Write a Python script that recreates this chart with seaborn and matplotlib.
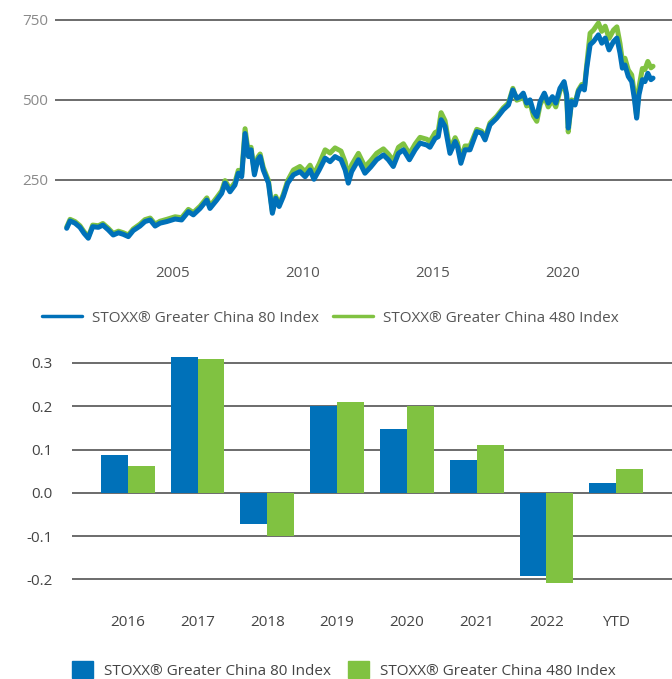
import matplotlib
matplotlib.use('Agg')
import matplotlib.pyplot as plt
from matplotlib.lines import Line2D
from matplotlib.patches import Patch
import seaborn as sns
import pandas as pd

# --- index levels (decimal year, GC80, GC480) ---
years = [2000.91, 2001.04, 2001.23, 2001.42, 2001.58, 2001.74, 2001.91,
         2002.13, 2002.3, 2002.51, 2002.7, 2002.9,
         2003.09, 2003.28, 2003.47, 2003.73, 2003.92,
         2004.12, 2004.31, 2004.5, 2004.76,
         2005.08, 2005.33, 2005.59, 2005.78,
         2006.04, 2006.3, 2006.42, 2006.68, 2006.87,
         2007.0, 2007.19, 2007.38, 2007.51, 2007.64, 2007.77, 2007.9,
         2008.0, 2008.13, 2008.26, 2008.35, 2008.47, 2008.67, 2008.82, 2008.95,
         2009.08, 2009.24, 2009.41, 2009.63, 2009.88,
         2010.08, 2010.27, 2010.42, 2010.62, 2010.85,
         2011.04, 2011.23, 2011.46, 2011.62, 2011.74, 2011.87,
         2012.13, 2012.38, 2012.6, 2012.83,
         2013.09, 2013.28, 2013.47, 2013.67, 2013.86,
         2014.09, 2014.31, 2014.5, 2014.76, 2014.88,
         2015.08, 2015.2, 2015.31, 2015.46, 2015.65, 2015.85, 2015.94,
         2016.07, 2016.23, 2016.42, 2016.68, 2016.87,
         2017.0, 2017.19, 2017.45, 2017.7, 2017.9,
         2018.07, 2018.22, 2018.35, 2018.47, 2018.6, 2018.73, 2018.86, 2018.99,
         2019.12, 2019.28, 2019.43, 2019.59, 2019.72, 2019.88,
         2020.04, 2020.14, 2020.2, 2020.33, 2020.46, 2020.59, 2020.72, 2020.82, 2020.91,
         2021.04, 2021.17, 2021.36, 2021.49, 2021.62, 2021.77, 2021.94,
         2022.07, 2022.19, 2022.28, 2022.38, 2022.51, 2022.64, 2022.74, 2022.83, 2022.92,
         2023.05, 2023.15, 2023.26, 2023.38, 2023.46]
gc80 = [99, 122, 115, 102, 83, 68, 104,
        102, 109, 94, 78, 85,
        80, 73, 92, 106, 120,
        125, 106, 115, 120,
        128, 125, 151, 141,
        161, 187, 161, 187, 208,
        240, 213, 234, 271, 260, 395, 323,
        344, 266, 313, 323, 281, 240, 146, 193,
        167, 198, 240, 266, 276,
        260, 281, 252, 281, 318,
        307, 323, 313, 281, 240, 276,
        313, 271, 290, 313,
        328, 313, 292, 333, 344,
        313, 344, 365, 359, 352,
        380, 385, 438, 417, 333, 370, 354,
        302, 344, 344, 401, 396,
        375, 422, 443, 469, 484,
        531, 505, 510, 521, 490, 500, 464, 448,
        495, 521, 490, 510, 490, 536,
        557, 516, 412, 495, 484, 526, 542, 531, 599,
        672, 682, 703, 677, 693, 656, 682,
        693, 646, 599, 609, 573, 557, 505, 443, 516,
        563, 557, 583, 563, 568]
gc480 = [103, 127, 120, 107, 88, 72, 109,
         107, 114, 99, 83, 90,
         85, 78, 97, 112, 126,
         131, 112, 121, 127,
         135, 132, 158, 148,
         168, 194, 168, 195, 216,
         248, 221, 242, 280, 268, 410, 332,
         352, 274, 321, 331, 289, 248, 152, 199,
         173, 205, 248, 281, 292,
         276, 296, 268, 300, 344,
         334, 350, 340, 306, 262, 297,
         333, 291, 310, 333,
         347, 331, 310, 352, 363,
         331, 362, 383, 377, 370,
         398, 403, 460, 435, 345, 382, 366,
         314, 356, 356, 408, 402,
         381, 428, 449, 475, 490,
         536, 499, 503, 514, 481, 491, 450, 433,
         485, 512, 478, 500, 478, 528,
         550, 508, 400, 500, 490, 531, 548, 537, 609,
         708, 718, 740, 714, 730, 692, 718,
         728, 676, 622, 630, 593, 578, 522, 448, 540,
         598, 595, 620, 600, 605]

# --- annual returns ---
periods = ["2016", "2017", "2018", "2019", "2020", "2021", "2022", "YTD"]
ret80 = [0.0875, 0.314, -0.072, 0.200, 0.147, 0.076, -0.193, 0.023]
ret480 = [0.062, 0.309, -0.1005, 0.2095, 0.1995, 0.1105, -0.209, 0.055]

name80 = "STOXX\u00ae Greater China 80 Index"
name480 = "STOXX\u00ae Greater China 480 Index"
blue = "#0071B9"
green = "#80C241"

sns.set_theme(style="white")
plt.rcParams['font.family'] = ['Open Sans', 'DejaVu Sans']

fig = plt.figure(figsize=(6.72, 6.79), dpi=100)

# ---------- line chart ----------
ax1 = fig.add_axes([55 / 672, 1 - 260 / 679, 617 / 672, 245 / 679])
sns.lineplot(x=years, y=gc480, color=green, linewidth=3.6, ax=ax1)
sns.lineplot(x=years, y=gc80, color=blue, linewidth=3.6, ax=ax1)
ax1.set_xlim(2000.46, 2024.19)
ax1.set_ylim(0, 765)
ax1.set_yticks([250, 500, 750])
ax1.set_xticks([2005, 2010, 2015, 2020])
ax1.set_xticklabels(["2005", "2010", "2015", "2020"])
ax1.yaxis.grid(True, color="#444444", linewidth=1.1)
ax1.xaxis.grid(False)
ax1.set_axisbelow(True)
sns.despine(ax=ax1, left=True, bottom=True)
ax1.tick_params(axis='y', length=0, pad=5, labelsize=11, labelcolor="#8a8a8a")
ax1.tick_params(axis='x', length=0, pad=4, labelsize=11, labelcolor="#555555")

fig.legend(handles=[Line2D([], [], color=blue, lw=2.5), Line2D([], [], color=green, lw=2.5)],
           labels=[name80, name480], loc='center left', bbox_to_anchor=(42 / 672, 1 - 318 / 679),
           ncol=2, frameon=False, fontsize=11, handlelength=2.6, handletextpad=0.65,
           columnspacing=0.95, borderpad=0, borderaxespad=0, labelcolor="#555555")

# ---------- bar chart ----------
df = pd.DataFrame({
    "period": periods * 2,
    "ret": ret80 + ret480,
    "index": [name80] * len(periods) + [name480] * len(periods),
})
ax2 = fig.add_axes([72 / 672, 1 - 601 / 679, 600 / 672, 251 / 679])
sns.barplot(data=df, x="period", y="ret", hue="index", order=periods,
            hue_order=[name80, name480], palette=[blue, green], saturation=1,
            width=0.77, linewidth=0, legend=False, ax=ax2)
ax2.set_xlim(-0.8, 7.8)
ax2.set_ylim(-0.25, 0.33)
ax2.set_yticks([-0.2, -0.1, 0.0, 0.1, 0.2, 0.3])
ax2.set_yticklabels(["-0.2", "-0.1", "0.0", "0.1", "0.2", "0.3"])
ax2.set_xlabel("")
ax2.set_ylabel("")
ax2.yaxis.grid(True, color="#444444", linewidth=1.1)
ax2.xaxis.grid(False)
ax2.set_axisbelow(True)
sns.despine(ax=ax2, left=True, bottom=True)
ax2.tick_params(axis='y', length=0, pad=14, labelsize=11, labelcolor="#444444")
ax2.tick_params(axis='x', length=0, pad=10, labelsize=11, labelcolor="#444444")

fig.legend(handles=[Patch(color=blue), Patch(color=green)], labels=[name80, name480],
           loc='upper left', bbox_to_anchor=(72 / 672, 1 - 661 / 679), ncol=2, frameon=False,
           fontsize=11, handlelength=1.35, handleheight=1.35, handletextpad=0.75,
           columnspacing=1.1, borderpad=0, borderaxespad=0, labelcolor="#444444")

fig.savefig("out.png", dpi=100)
